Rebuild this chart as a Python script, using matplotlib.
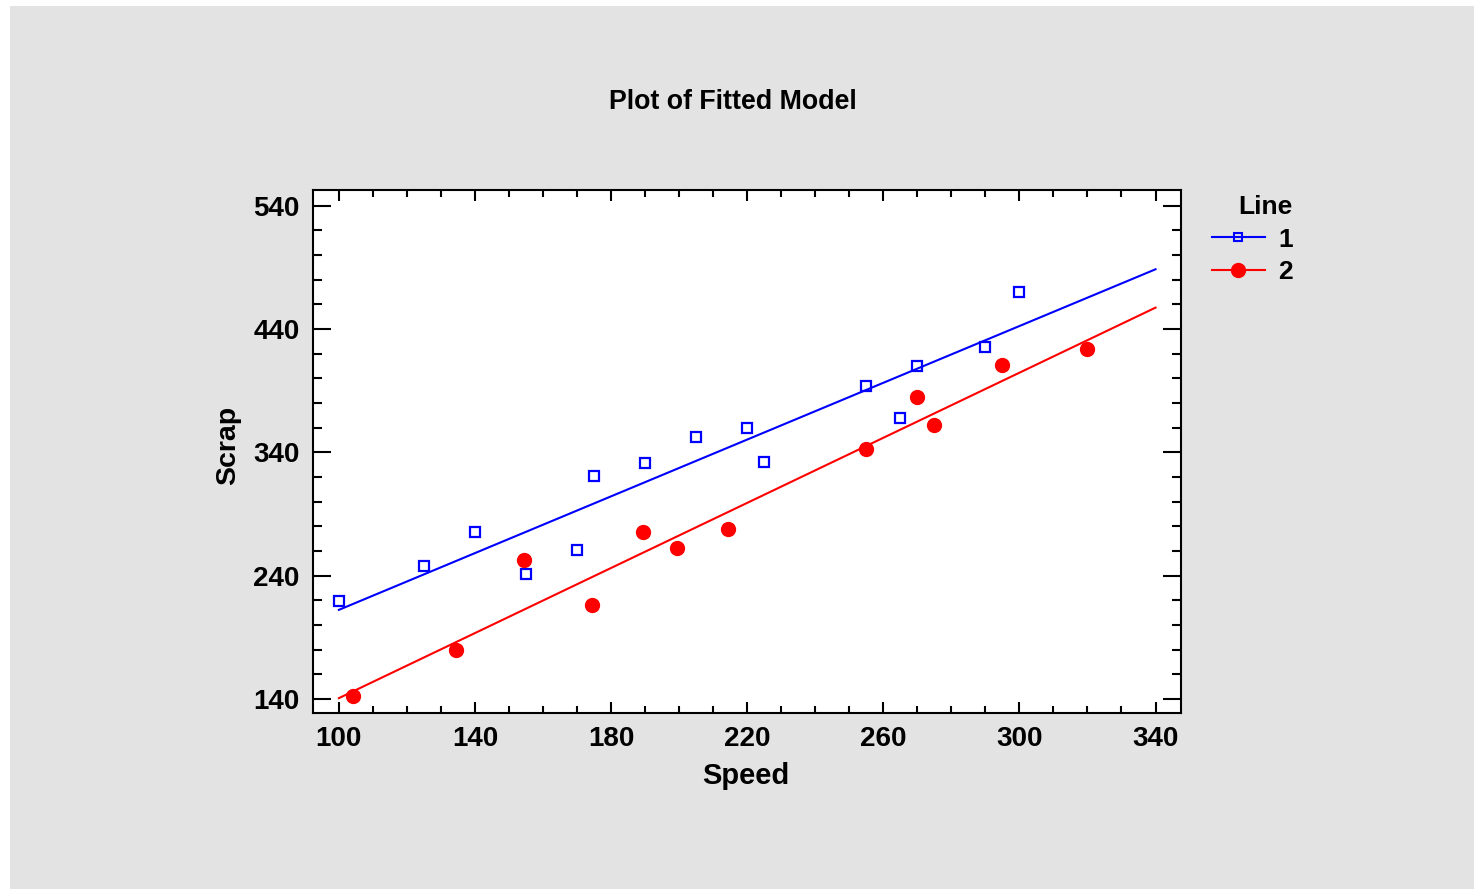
import numpy as np
import matplotlib
matplotlib.use("Agg")
import matplotlib.pyplot as plt
from matplotlib.patches import Rectangle
from matplotlib.lines import Line2D

# observed points, line 1
speed_1 = [100, 125, 140, 155, 170, 175, 190, 205, 220, 225, 255, 265, 270, 290, 300]
scrap_1 = [219, 248, 275, 241, 261, 321, 331, 352, 360, 332, 394, 368, 410, 425, 470]

# observed points, line 2
speed_2 = [104, 134.5, 154.5, 174.5, 189.5, 199.5, 214.5, 255, 270, 275, 295, 320]
scrap_2 = [142, 180, 253, 216, 275, 262, 278, 343, 385, 362, 411, 424]

# fitted model evaluated at the ends of the speed range
fit_speed = [100, 340]
fit_1 = [212.2, 488.4]
fit_2 = [140.6, 457.3]

x_ticks = [100, 140, 180, 220, 260, 300, 340]
y_ticks = [140, 240, 340, 440, 540]

W, H = 1474, 889
plt.rcParams["font.family"] = ["Liberation Sans", "DejaVu Sans"]
plt.rcParams["font.weight"] = "bold"

fig = plt.figure(figsize=(W / 100, H / 100), dpi=100, facecolor="white")
fig.add_artist(Rectangle((10 / W, 0), 1, 1 - 6 / H, transform=fig.transFigure,
                         facecolor="#e3e3e3", edgecolor="none", zorder=0))

ax = fig.add_axes([312.7 / W, 1 - 713.3 / H, 868 / W, 523.3 / H])
ax.set_facecolor("white")

ax.plot(fit_speed, fit_1, color="blue", lw=1.5)
ax.plot(fit_speed, fit_2, color="red", lw=1.5)
ax.plot(speed_1, scrap_1, ls="none", marker="s", ms=6.5, mfc="none",
        mec="blue", mew=1.6)
ax.plot(speed_2, scrap_2, ls="none", marker="o", ms=10, color="red")

ax.set_xlim(92.3, 347.4)
ax.set_ylim(128.3, 552.7)
ax.set_xticks(x_ticks)
ax.set_xticks(np.arange(100, 341, 10), minor=True)
ax.set_yticks(y_ticks)
ax.set_yticks(np.arange(140, 541, 20), minor=True)

ax.tick_params(which="both", direction="in", top=True, right=True, width=1.5,
               labelsize=20)
ax.tick_params(axis="x", which="major", length=7.7, pad=9.5)
ax.tick_params(axis="x", which="minor", length=4.8)
ax.tick_params(axis="y", which="major", length=12.7, pad=9.4)
ax.tick_params(axis="y", which="minor", length=6.7)
for s in ax.spines.values():
    s.set_linewidth(1.5)

fig.text(733 / W, 1 - 109 / H, "Plot of Fitted Model", ha="center",
         va="baseline", fontsize=19.3, fontweight="bold")
fig.text(746 / W, 1 - 784 / H, "Speed", ha="center", va="baseline",
         fontsize=21, fontweight="bold")
fig.text(228.5 / W, 1 - 445 / H, "Scrap", rotation=90, ha="center",
         va="center", fontsize=20.5, fontweight="bold")

handles = [
    Line2D([], [], color="blue", lw=1.5, marker="s", ms=6, mfc="none",
           mec="blue", mew=1.5),
    Line2D([], [], color="red", lw=1.5, marker="o", ms=10),
]
leg = fig.legend(handles, ["1", "2"], title="Line", loc="upper left",
                 bbox_to_anchor=(1212 / W, 1 - 195 / H), frameon=False,
                 fontsize=19, title_fontsize=19, borderpad=0,
                 borderaxespad=0, handlelength=2.0, handletextpad=0.5,
                 labelspacing=0.33, numpoints=1, alignment="right")
leg.get_title().set_fontweight("bold")

fig.savefig("out.png", dpi=100, facecolor=fig.get_facecolor())
